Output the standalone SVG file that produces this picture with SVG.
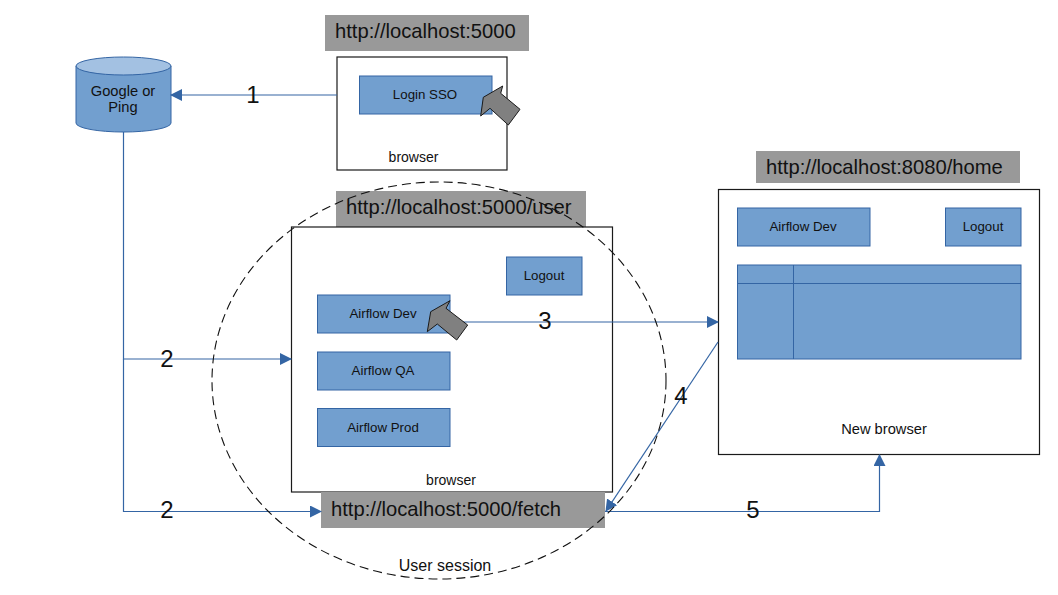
<svg xmlns="http://www.w3.org/2000/svg" width="1058" height="595" viewBox="0 0 1058 595">
<style>
text{font-family:"Liberation Sans",Arial,sans-serif;text-anchor:middle}
.b{fill:#729fcf;stroke:#3465a4;stroke-width:1}
.w{fill:#fff;stroke:#1a1a1a;stroke-width:1.2}
.g{fill:#999}
.u{font-size:20.200px;text-anchor:start;fill:#111}
.s{font-size:13.300px;fill:#111}
.m{font-size:14.700px;fill:#111}
.n{font-size:24px;fill:#111}
.c{fill:none;stroke:#3465a4;stroke-width:1.2}
.p{fill:#808080;stroke:#1a1a1a;stroke-width:1}
</style>
<defs>
<marker id="a" markerUnits="userSpaceOnUse" markerWidth="12" markerHeight="12" refX="11" refY="6" orient="auto"><path d="M0 0L12 6L0 12Z" fill="#3465a4"/></marker>
</defs>
<g id="node-url1"><rect class="g" x="325" y="15" width="204" height="36"/><text class="u" x="335" y="38">http://localhost:5000</text></g>
<g id="node-browser1"><rect class="w" x="337" y="57" width="170" height="113"/><text class="s" x="413.500" y="162" style="font-size:14px">browser</text></g>
<g id="node-login"><rect class="b" x="359.500" y="76" width="132.500" height="38"/><text class="s" x="425" y="99">Login SSO</text></g>
<g id="node-idp"><path class="b" d="M76 66V123A47.500 9 0 0 0 171 123V66Z"/><ellipse cx="123.500" cy="66" rx="47.500" ry="9" fill="#a3c1e2" stroke="#3465a4"/><text class="m" x="123" y="96">Google or</text><text class="m" x="123" y="112">Ping</text></g>
<g id="node-url2"><rect class="g" x="336" y="191" width="250" height="36"/><text class="u" x="346" y="214">http://localhost:5000/user</text></g>
<g id="node-browser2"><rect class="w" x="291.500" y="227" width="321" height="265"/><text class="s" x="451" y="485" style="font-size:14px">browser</text></g>
<g id="node-logout1"><rect class="b" x="506.500" y="257" width="75.500" height="38"/><text class="s" x="544" y="280">Logout</text></g>
<g id="node-dev"><rect class="b" x="317.500" y="295" width="132.500" height="38"/><text class="s" x="383" y="318">Airflow Dev</text></g>
<g id="node-qa"><rect class="b" x="317.500" y="352" width="132.500" height="38"/><text class="s" x="383" y="375">Airflow QA</text></g>
<g id="node-prod"><rect class="b" x="317.500" y="408.500" width="132.500" height="38"/><text class="s" x="383" y="432">Airflow Prod</text></g>
<g id="node-url3"><rect class="g" x="321" y="492" width="284" height="36"/><text class="u" x="331" y="516">http://localhost:5000/fetch</text></g>
<g id="node-url4"><rect class="g" x="756" y="151" width="264" height="32"/><text class="u" x="766" y="174">http://localhost:8080/home</text></g>
<g id="node-browser3"><rect class="w" x="718.500" y="189.500" width="321" height="265"/><text class="m" x="884" y="434">New browser</text></g>
<g id="node-dev2"><rect class="b" x="737.500" y="208" width="132.500" height="38"/><text class="s" x="803" y="231">Airflow Dev</text></g>
<g id="node-logout2"><rect class="b" x="945.500" y="208" width="75.500" height="38"/><text class="s" x="983" y="231">Logout</text></g>
<g id="node-table"><rect class="b" x="737.500" y="265" width="283.500" height="94"/><path d="M737.500 283.500H1021M793.500 265V359" fill="none" stroke="#3465a4"/></g>
<g id="connectors">
<path class="c" marker-end="url(#a)" d="M337 95H171"/>
<path class="c" marker-end="url(#a)" d="M123.500 132V359H291"/>
<path class="c" marker-end="url(#a)" d="M123.500 359V511.500H321"/>
<path class="c" marker-end="url(#a)" d="M450 322H718"/>
<path class="c" marker-end="url(#a)" d="M718 342L606 511"/>
<path class="c" marker-end="url(#a)" d="M605 511.500H879.500V455"/>
</g>
<g id="labels"><text class="n" x="253" y="103">1</text><text class="n" x="167" y="367">2</text><text class="n" x="167" y="518">2</text><text class="n" x="545" y="329">3</text><text class="n" x="681" y="404">4</text><text class="n" x="753" y="518">5</text></g>
<g id="node-cursor1"><path class="p" d="M502.700 86L483.300 97.300L480.700 116L490 108.300L508.300 125L520 109.300L500.700 93.300Z"/></g>
<g id="node-cursor2"><path class="p" d="M450 300.700L430.700 311.700L427.300 331.700L437.300 324L456.700 340L467.700 325L446 308.300Z"/></g>
<g id="node-session"><ellipse cx="439" cy="380.500" rx="227" ry="198.500" fill="none" stroke="#111" stroke-width="1.100" stroke-dasharray="9 5"/><text class="s" x="445" y="571" style="font-size:16px">User session</text></g>
</svg>
